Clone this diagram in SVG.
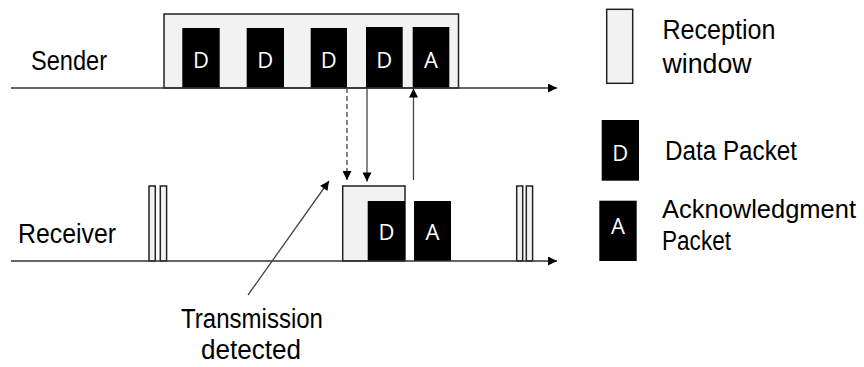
<svg xmlns="http://www.w3.org/2000/svg" width="864" height="367" viewBox="0 0 864 367">
<style>
.lbl{font-family:"Liberation Sans",Arial,sans-serif;font-size:27px;fill:#000}
.pk{font-family:"Open Sans","Liberation Sans",sans-serif;font-size:22px;fill:#fff;text-anchor:middle}
.win{fill:#f2f2f2;stroke:#222;stroke-width:1.5}
.blk{fill:#000}
.axis{stroke:#333;stroke-width:1.5;fill:none}
.conn{stroke:#444;stroke-width:1.3;fill:none}
</style>
<defs>
<marker id="ah" viewBox="0 0 10 10" refX="10" refY="5" markerWidth="10" markerHeight="9" markerUnits="userSpaceOnUse" orient="auto">
<path d="M0,0 L10,5 L0,10 z" fill="#000"/>
</marker>
</defs>
<rect width="864" height="367" fill="#fff"/>

<g id="sender">
<text class="lbl" x="31" y="70" textLength="76" lengthAdjust="spacingAndGlyphs">Sender</text>
<rect class="win" x="164" y="14" width="294.5" height="74"/>
<rect class="blk" x="182.3" y="28" width="37.4" height="60"/>
<text class="pk" x="201" y="68">D</text>
<rect class="blk" x="246.7" y="28" width="37.3" height="60"/>
<text class="pk" x="265.3" y="68">D</text>
<rect class="blk" x="310.7" y="28" width="36.3" height="60"/>
<text class="pk" x="328.8" y="68">D</text>
<rect class="blk" x="366" y="27" width="36.7" height="61"/>
<text class="pk" x="384.3" y="68">D</text>
<rect class="blk" x="412.7" y="27" width="36.6" height="61"/>
<text class="pk" x="431" y="68">A</text>
</g>

<g id="receiver">
<text class="lbl" x="18" y="243" textLength="98" lengthAdjust="spacingAndGlyphs">Receiver</text>
<rect class="win" x="149" y="186" width="6.3" height="75"/>
<rect class="win" x="160.3" y="186" width="6.3" height="75"/>
<rect class="win" x="516.7" y="186" width="6" height="75"/>
<rect class="win" x="526.3" y="186" width="6.3" height="75"/>
<rect class="win" x="342.7" y="186" width="62.3" height="75"/>
<rect class="blk" x="367.7" y="201" width="37.3" height="60"/>
<text class="pk" x="386.4" y="240">D</text>
<rect class="blk" x="414" y="201" width="37" height="60"/>
<text class="pk" x="432.5" y="240">A</text>
</g>

<g id="connectors">
<line class="axis" x1="11" y1="88" x2="557" y2="88" marker-end="url(#ah)"/>
<line class="axis" x1="11" y1="261" x2="557" y2="261" marker-end="url(#ah)"/>
<line class="conn" x1="347" y1="88" x2="347" y2="180" stroke-dasharray="5,3" marker-end="url(#ah)"/>
<line class="conn" x1="367" y1="88" x2="367" y2="181.5" marker-end="url(#ah)"/>
<line class="conn" x1="413.5" y1="180" x2="413.5" y2="88.5" marker-end="url(#ah)"/>
<line class="conn" x1="248" y1="295" x2="329" y2="181" marker-end="url(#ah)"/>
</g>

<g id="transmission-label">
<text class="lbl" x="181" y="328" textLength="142" lengthAdjust="spacingAndGlyphs">Transmission</text>
<text class="lbl" x="201" y="359" textLength="100" lengthAdjust="spacingAndGlyphs">detected</text>
</g>

<g id="legend-window">
<rect class="win" x="606.7" y="9.3" width="26" height="74"/>
<text class="lbl" x="662.5" y="39" textLength="113" lengthAdjust="spacingAndGlyphs">Reception</text>
<text class="lbl" x="662.5" y="73" textLength="89" lengthAdjust="spacingAndGlyphs">window</text>
</g>

<g id="legend-data">
<rect class="blk" x="601.7" y="120" width="37.3" height="60.7"/>
<text class="pk" x="620.3" y="160.7">D</text>
<text class="lbl" x="665" y="160" textLength="132" lengthAdjust="spacingAndGlyphs">Data Packet</text>
</g>

<g id="legend-ack">
<rect class="blk" x="599.3" y="200.7" width="37.4" height="60.3"/>
<text class="pk" x="618" y="233.5">A</text>
<text class="lbl" x="662" y="218" font-size="25.5" style="font-size:25.5px" textLength="194" lengthAdjust="spacingAndGlyphs">Acknowledgment</text>
<text class="lbl" x="662" y="250" textLength="69" lengthAdjust="spacingAndGlyphs">Packet</text>
</g>
</svg>
